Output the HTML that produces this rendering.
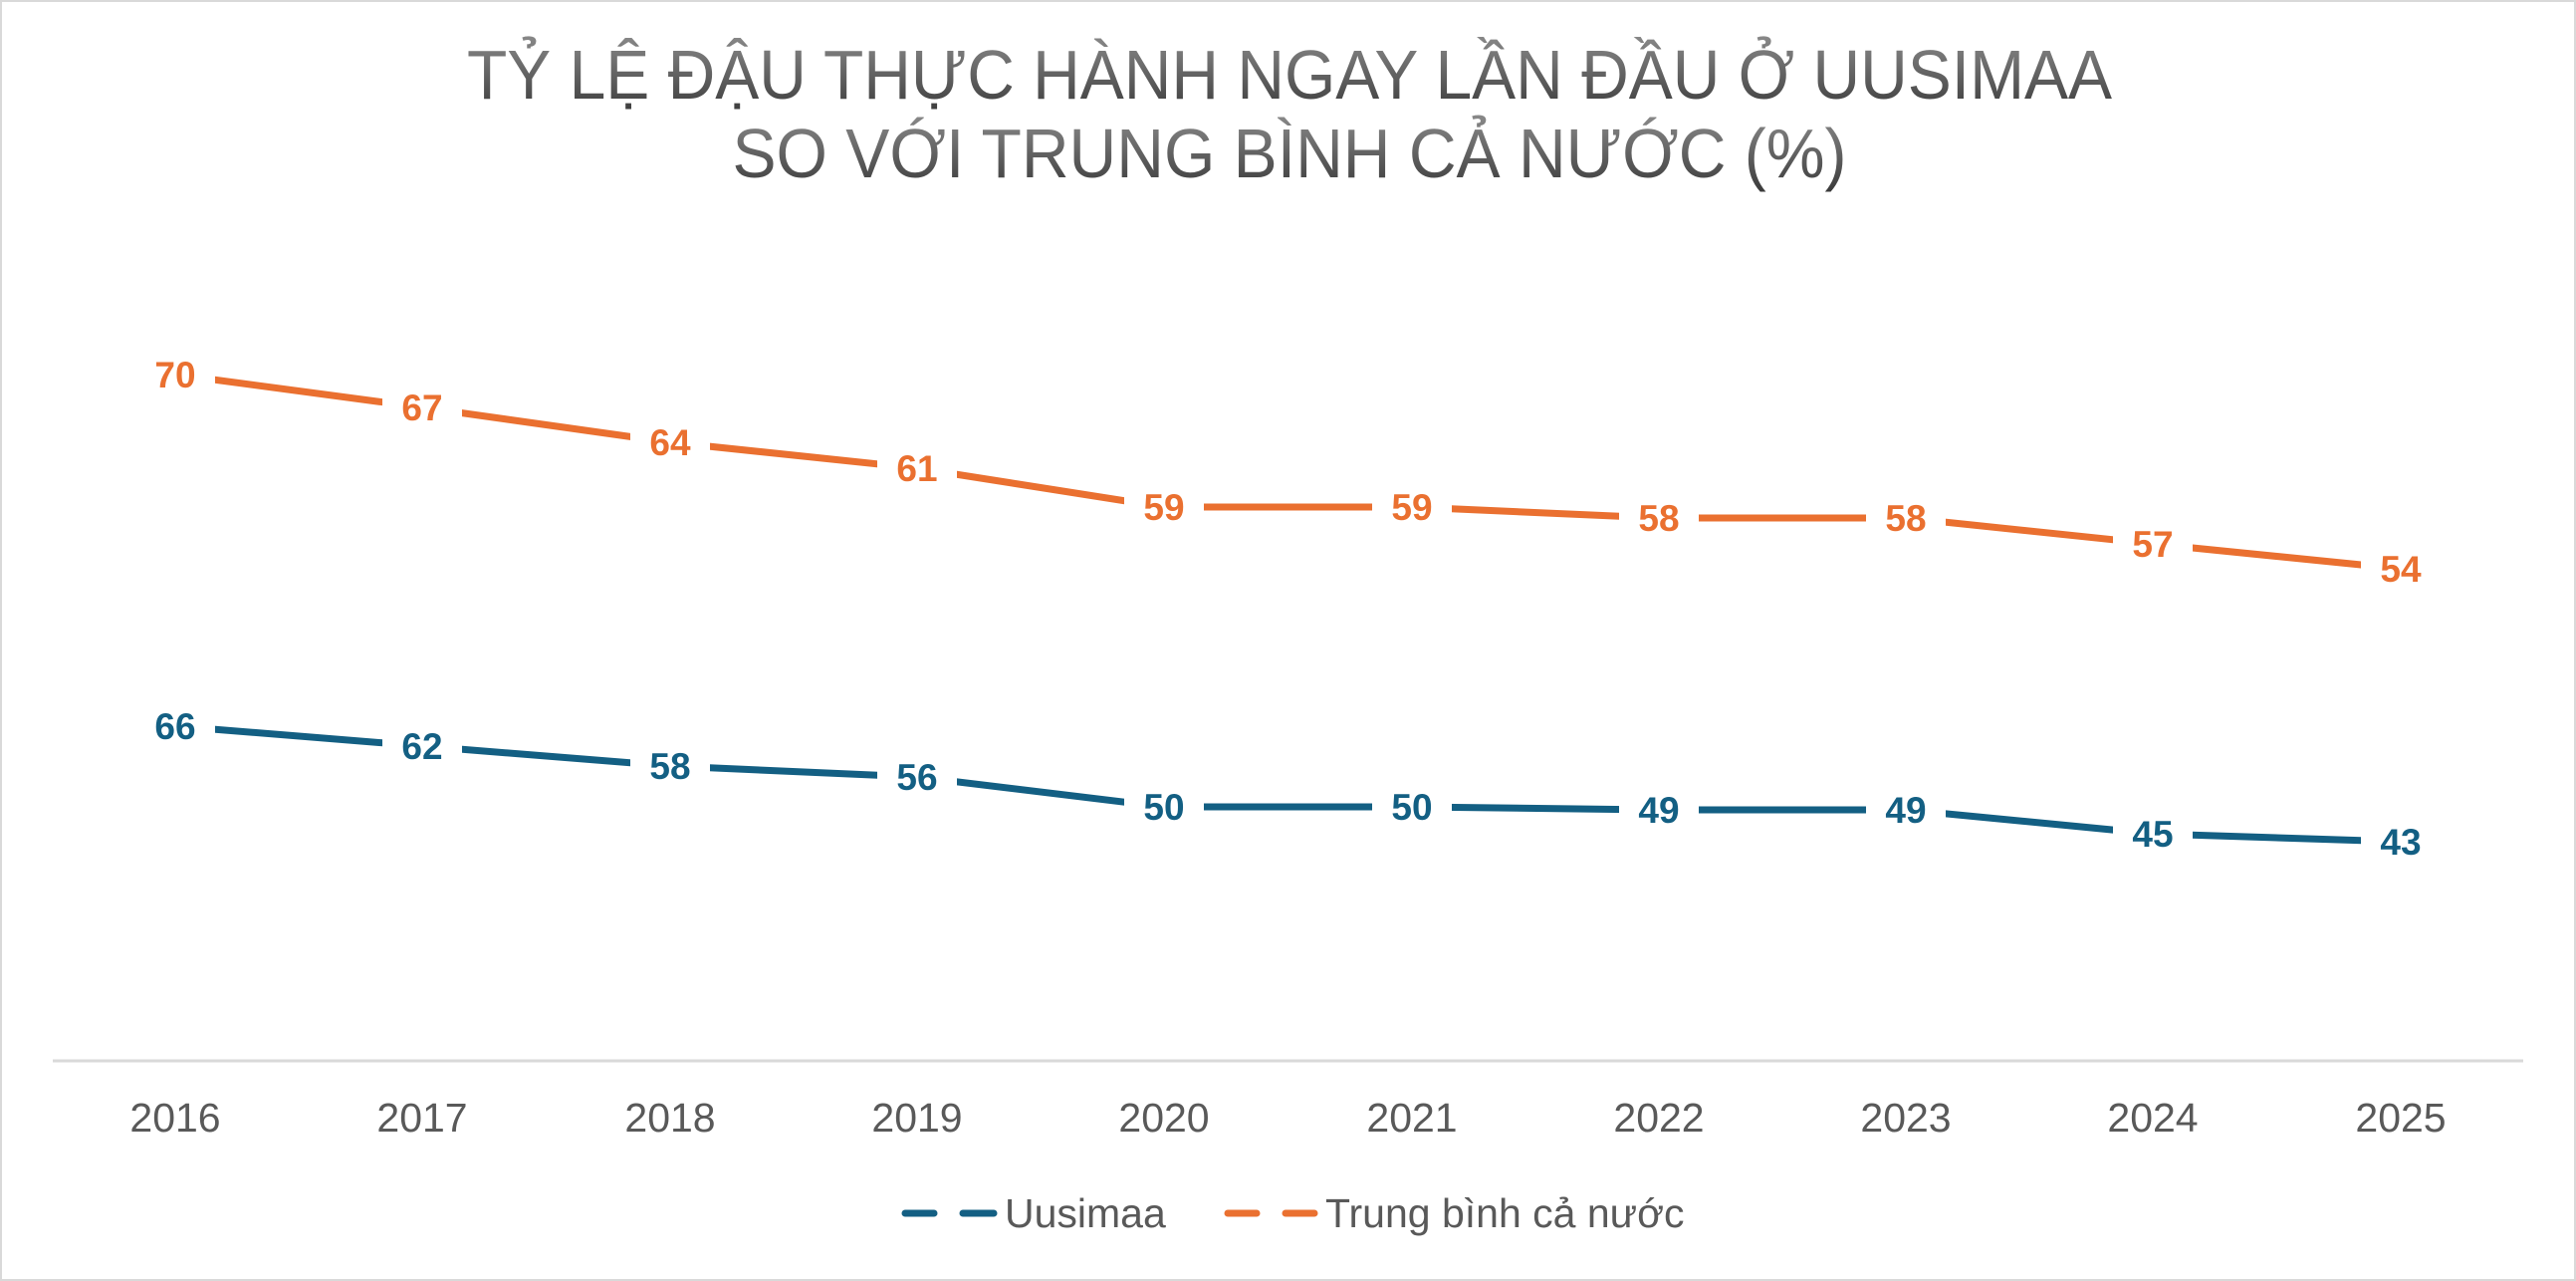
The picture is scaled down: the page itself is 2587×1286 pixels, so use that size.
<!DOCTYPE html>
<html><head><meta charset="utf-8"><style>
html,body{margin:0;padding:0;background:#fff;}
svg{display:block;}
</style></head><body>
<svg width="2587" height="1286" viewBox="0 0 2587 1286" xmlns="http://www.w3.org/2000/svg">
<defs>
<linearGradient id="tg" x1="0" y1="0" x2="0" y2="1">
<stop offset="0" stop-color="#8a8a8a"/><stop offset="1" stop-color="#3a3a3a"/>
</linearGradient>
</defs>
<rect x="1" y="1" width="2585" height="1284" fill="#fff" stroke="#d9d9d9" stroke-width="2"/>
<g font-family="Liberation Sans, sans-serif" font-size="70" text-anchor="middle" fill="url(#tg)">
<text x="1295" y="99" textLength="1652" lengthAdjust="spacingAndGlyphs">TỶ LỆ ĐẬU THỰC HÀNH NGAY LẦN ĐẦU Ở UUSIMAA</text>
<text x="1295" y="178" textLength="1119" lengthAdjust="spacingAndGlyphs">SO VỚI TRUNG BÌNH CẢ NƯỚC (%)</text>
</g>
<line x1="53" y1="1065" x2="2534" y2="1065" stroke="#d9d9d9" stroke-width="3"/>
<g font-family="Liberation Sans, sans-serif" font-size="41" fill="#595959" text-anchor="middle">
<text x="176" y="1136">2016</text><text x="424" y="1136">2017</text><text x="673" y="1136">2018</text>
<text x="921" y="1136">2019</text><text x="1169" y="1136">2020</text><text x="1418" y="1136">2021</text>
<text x="1666" y="1136">2022</text><text x="1914" y="1136">2023</text><text x="2162" y="1136">2024</text>
<text x="2411" y="1136">2025</text>
</g>
<polyline fill="none" stroke="#EA7030" stroke-width="7" points="176,376 424,409 673,444 921,470 1169,509 1418,509 1666,520 1914,520 2162,546 2411,571"/>
<polyline fill="none" stroke="#135F83" stroke-width="7" points="176,729 424,749 673,769 921,780 1169,810 1418,810 1666,813 1914,813 2162,837 2411,845"/>
<g fill="#fff">
<rect x="136" y="350" width="80" height="52"/><rect x="384" y="383" width="80" height="52"/><rect x="633" y="418" width="80" height="52"/>
<rect x="881" y="444" width="80" height="52"/><rect x="1129" y="483" width="80" height="52"/><rect x="1378" y="483" width="80" height="52"/>
<rect x="1626" y="494" width="80" height="52"/><rect x="1874" y="494" width="80" height="52"/><rect x="2122" y="520" width="80" height="52"/>
<rect x="2371" y="545" width="80" height="52"/>
<rect x="136" y="703" width="80" height="52"/><rect x="384" y="723" width="80" height="52"/><rect x="633" y="743" width="80" height="52"/>
<rect x="881" y="754" width="80" height="52"/><rect x="1129" y="784" width="80" height="52"/><rect x="1378" y="784" width="80" height="52"/>
<rect x="1626" y="787" width="80" height="52"/><rect x="1874" y="787" width="80" height="52"/><rect x="2122" y="811" width="80" height="52"/>
<rect x="2371" y="819" width="80" height="52"/>
</g>
<g font-family="Liberation Sans, sans-serif" font-size="37" font-weight="bold" text-anchor="middle" fill="#EA7030">
<text x="176" y="389">70</text><text x="424" y="422">67</text><text x="673" y="457">64</text><text x="921" y="483">61</text>
<text x="1169" y="522">59</text><text x="1418" y="522">59</text><text x="1666" y="533">58</text><text x="1914" y="533">58</text>
<text x="2162" y="559">57</text><text x="2411" y="584">54</text>
</g>
<g font-family="Liberation Sans, sans-serif" font-size="37" font-weight="bold" text-anchor="middle" fill="#135F83">
<text x="176" y="742">66</text><text x="424" y="762">62</text><text x="673" y="782">58</text><text x="921" y="793">56</text>
<text x="1169" y="823">50</text><text x="1418" y="823">50</text><text x="1666" y="826">49</text><text x="1914" y="826">49</text>
<text x="2162" y="850">45</text><text x="2411" y="858">43</text>
</g>
<g stroke-width="7" stroke-linecap="round">
<line x1="909" y1="1218" x2="938" y2="1218" stroke="#135F83"/><line x1="967" y1="1218" x2="998" y2="1218" stroke="#135F83"/>
<line x1="1233" y1="1218" x2="1262" y2="1218" stroke="#EA7030"/><line x1="1291" y1="1218" x2="1320" y2="1218" stroke="#EA7030"/>
</g>
<g font-family="Liberation Sans, sans-serif" font-size="41" fill="#595959">
<text x="1009" y="1232">Uusimaa</text>
<text x="1331" y="1232">Trung bình cả nước</text>
</g>
</svg>
</body></html>
